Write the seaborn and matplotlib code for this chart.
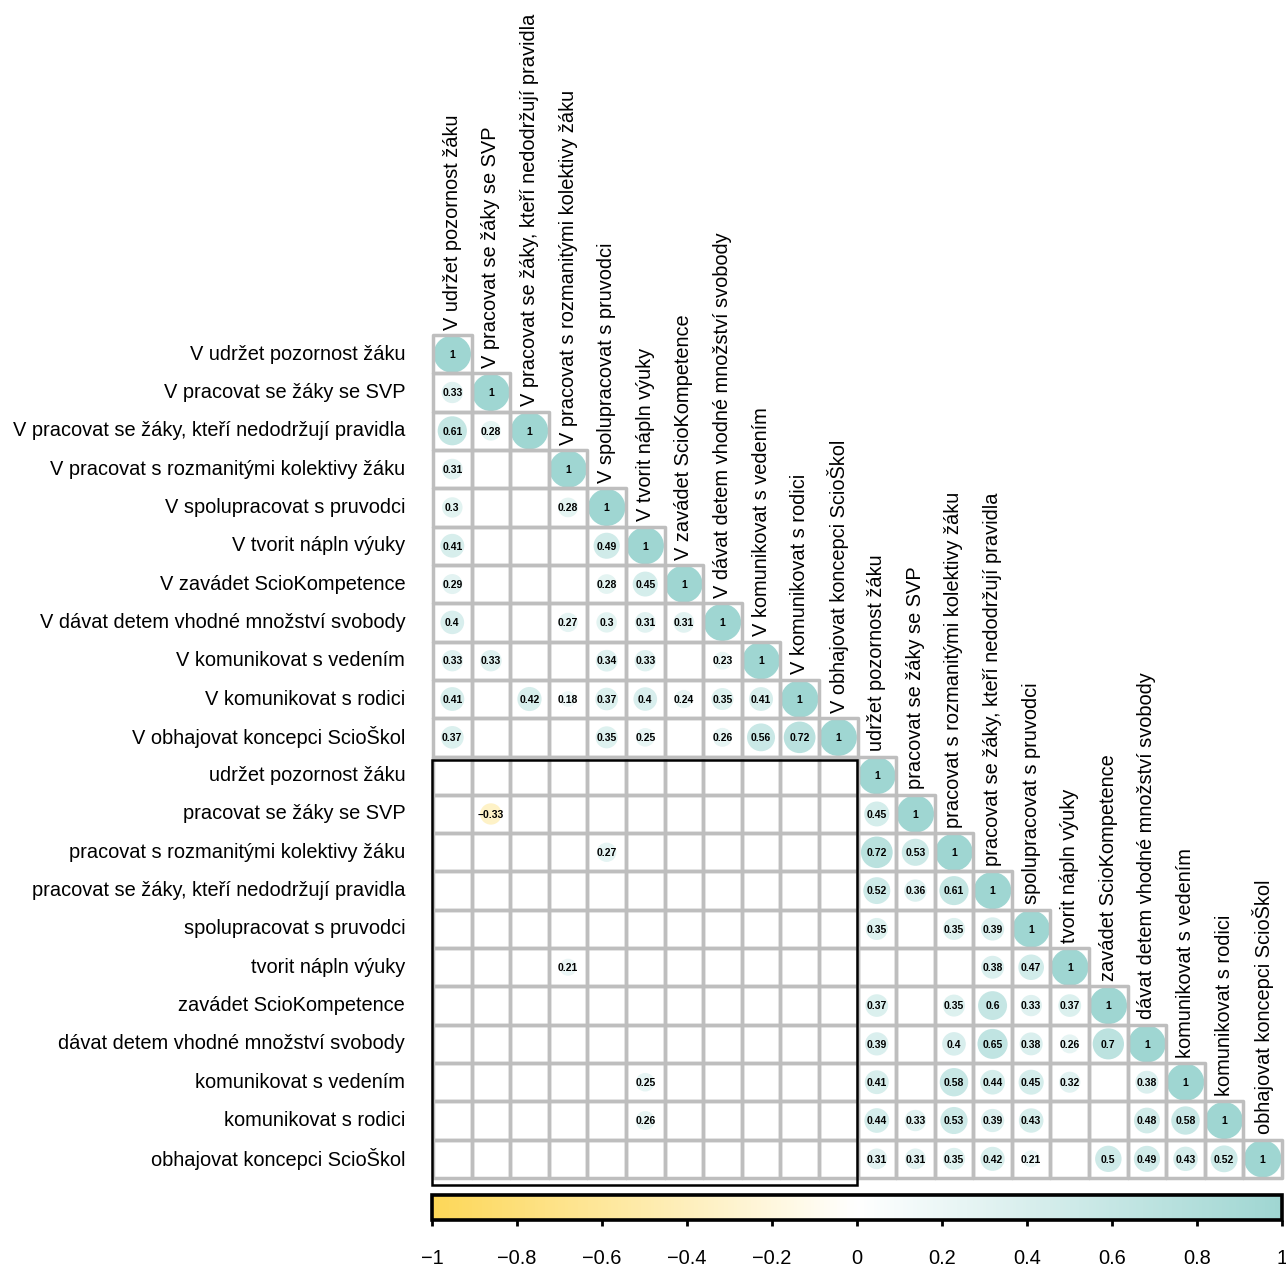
import numpy as np
import pandas as pd
import matplotlib
matplotlib.use("Agg")
import matplotlib.pyplot as plt
import seaborn as sns
from matplotlib.colors import LinearSegmentedColormap, ListedColormap, Normalize
from matplotlib.collections import EllipseCollection, PatchCollection
from matplotlib.patches import Rectangle
import matplotlib.cm as cm

# ---------------- data ----------------
v_labels = [
    "V udržet pozornost žáku",
    "V pracovat se žáky se SVP",
    "V pracovat se žáky, kteří nedodržují pravidla",
    "V pracovat s rozmanitými kolektivy žáku",
    "V spolupracovat s pruvodci",
    "V tvorit nápln výuky",
    "V zavádet ScioKompetence",
    "V dávat detem vhodné množství svobody",
    "V komunikovat s vedením",
    "V komunikovat s rodici",
    "V obhajovat koncepci ScioŠkol",
]
plain_labels = [
    "udržet pozornost žáku",
    "pracovat se žáky se SVP",
    "pracovat s rozmanitými kolektivy žáku",
    "pracovat se žáky, kteří nedodržují pravidla",
    "spolupracovat s pruvodci",
    "tvorit nápln výuky",
    "zavádet ScioKompetence",
    "dávat detem vhodné množství svobody",
    "komunikovat s vedením",
    "komunikovat s rodici",
    "obhajovat koncepci ScioŠkol",
]

N = None
# lower triangle of the "V ..." block (rows/cols 0-10); None = not significant
v_block = [
    [1],
    [0.33, 1],
    [0.61, 0.28, 1],
    [0.31, N, N, 1],
    [0.3, N, N, 0.28, 1],
    [0.41, N, N, N, 0.49, 1],
    [0.29, N, N, N, 0.28, 0.45, 1],
    [0.4, N, N, 0.27, 0.3, 0.31, 0.31, 1],
    [0.33, 0.33, N, N, 0.34, 0.33, N, 0.23, 1],
    [0.41, N, 0.42, 0.18, 0.37, 0.4, 0.24, 0.35, 0.41, 1],
    [0.37, N, N, N, 0.35, 0.25, N, 0.26, 0.56, 0.72, 1],
]
# cross block: plain rows (11-21) x "V" columns (0-10)
cross_block = [
    [N, N, N, N, N, N, N, N, N, N, N],
    [N, -0.33, N, N, N, N, N, N, N, N, N],
    [N, N, N, N, 0.27, N, N, N, N, N, N],
    [N, N, N, N, N, N, N, N, N, N, N],
    [N, N, N, N, N, N, N, N, N, N, N],
    [N, N, N, 0.21, N, N, N, N, N, N, N],
    [N, N, N, N, N, N, N, N, N, N, N],
    [N, N, N, N, N, N, N, N, N, N, N],
    [N, N, N, N, N, 0.25, N, N, N, N, N],
    [N, N, N, N, N, 0.26, N, N, N, N, N],
    [N, N, N, N, N, N, N, N, N, N, N],
]
# lower triangle of the plain block (rows/cols 11-21)
plain_block = [
    [1],
    [0.45, 1],
    [0.72, 0.53, 1],
    [0.52, 0.36, 0.61, 1],
    [0.35, N, 0.35, 0.39, 1],
    [N, N, N, 0.38, 0.47, 1],
    [0.37, N, 0.35, 0.6, 0.33, 0.37, 1],
    [0.39, N, 0.4, 0.65, 0.38, 0.26, 0.7, 1],
    [0.41, N, 0.58, 0.44, 0.45, 0.32, N, 0.38, 1],
    [0.44, 0.33, 0.53, 0.39, 0.43, N, N, 0.48, 0.58, 1],
    [0.31, 0.31, 0.35, 0.42, 0.21, N, 0.5, 0.49, 0.43, 0.52, 1],
]
cbar_ticks = [-1, -0.8, -0.6, -0.4, -0.2, 0, 0.2, 0.4, 0.6, 0.8, 1]

# ---------------- assemble matrix ----------------
k = len(v_labels)
n = 2 * k
M = np.full((n, n), np.nan)
for r0, c0, block in [(0, 0, v_block), (k, 0, cross_block), (k, k, plain_block)]:
    for i, row in enumerate(block):
        for j, v in enumerate(row):
            if v is not None:
                M[r0 + i, c0 + j] = v
labels = v_labels + plain_labels

# ---------------- styling ----------------
sns.set_theme(style="white")
plt.rcParams["font.family"] = ["Liberation Sans", "DejaVu Sans"]

cmap = LinearSegmentedColormap.from_list("corr", ["#FDD758", "#FFFFFF", "#9FD6D2"])
norm = Normalize(-1, 1)
grid_col = "#BEBEBE"
label_size = 14.4

W, H = 1286, 1269
fig = plt.figure(figsize=(W / 100, H / 100), dpi=100)
ax = fig.add_axes([433 / W, 1 - 1178 / H, 849 / W, 843 / H])

mask = np.triu(np.ones((n, n), dtype=bool), k=1)
sns.heatmap(pd.DataFrame(np.zeros((n, n)), index=labels, columns=labels),
            mask=mask, cmap=ListedColormap(["white"]), cbar=False,
            linewidths=0, xticklabels=False, yticklabels=labels, ax=ax)

# grid of lower-triangle cells (white faces below, grey edges above circles)
ii, jj = np.tril_indices(n)
ax.add_collection(PatchCollection([Rectangle((c, r), 1, 1) for r, c in zip(ii, jj)],
                                  facecolor="white", edgecolor="none",
                                  zorder=1.5, clip_on=False))
ax.add_collection(PatchCollection([Rectangle((c, r), 1, 1) for r, c in zip(ii, jj)],
                                  facecolor="none", edgecolor=grid_col,
                                  linewidth=2.5, zorder=3.5, clip_on=False))

# circles
rows, cols = np.where(~np.isnan(M))
vals = M[rows, cols]
diam = np.sqrt(np.abs(vals)) * 0.97
circles = EllipseCollection(diam, diam, np.zeros_like(diam), units="xy",
                            offsets=np.column_stack([cols + 0.5, rows + 0.5]),
                            offset_transform=ax.transData,
                            facecolors=cmap(norm(vals)), edgecolors="none",
                            zorder=3, clip_on=False)
ax.add_collection(circles)

for r, c, v in zip(rows, cols, vals):
    txt = f"{v:g}".replace("-", "\u2212")
    ax.text(c + 0.5, r + 0.52, txt, ha="center", va="center",
            fontsize=7.5, fontweight="bold", color="black", zorder=4)

# column labels above the diagonal
for j, lab in enumerate(labels):
    ax.text(j + 0.5, j - 0.14, lab, rotation=90, ha="center", va="bottom",
            fontsize=label_size, color="black")

ax.tick_params(axis="y", length=0, pad=20, labelsize=label_size, labelcolor="black")
plt.setp(ax.get_yticklabels(), rotation=0)
ax.set_xlabel("")
ax.set_ylabel("")

# black rectangle around cross block
ax.add_patch(Rectangle((-0.02, k + 0.09), k, k + 0.09, fill=False,
                       edgecolor="black", linewidth=1.8, zorder=5, clip_on=False))

# colorbar
cax = fig.add_axes([432 / W, 1 - 1220 / H, 850 / W, 25 / H])
sm = cm.ScalarMappable(norm=norm, cmap=cmap)
cb = fig.colorbar(sm, cax=cax, orientation="horizontal", ticks=cbar_ticks)
cb.outline.set_linewidth(2.6)
cb.outline.set_edgecolor("black")
cax.tick_params(axis="x", length=4, width=2, pad=17, labelsize=label_size, colors="black")
cax.set_xticklabels([f"{t:g}".replace("-", "\u2212") for t in cbar_ticks])

fig.savefig("out.png", dpi=100)
